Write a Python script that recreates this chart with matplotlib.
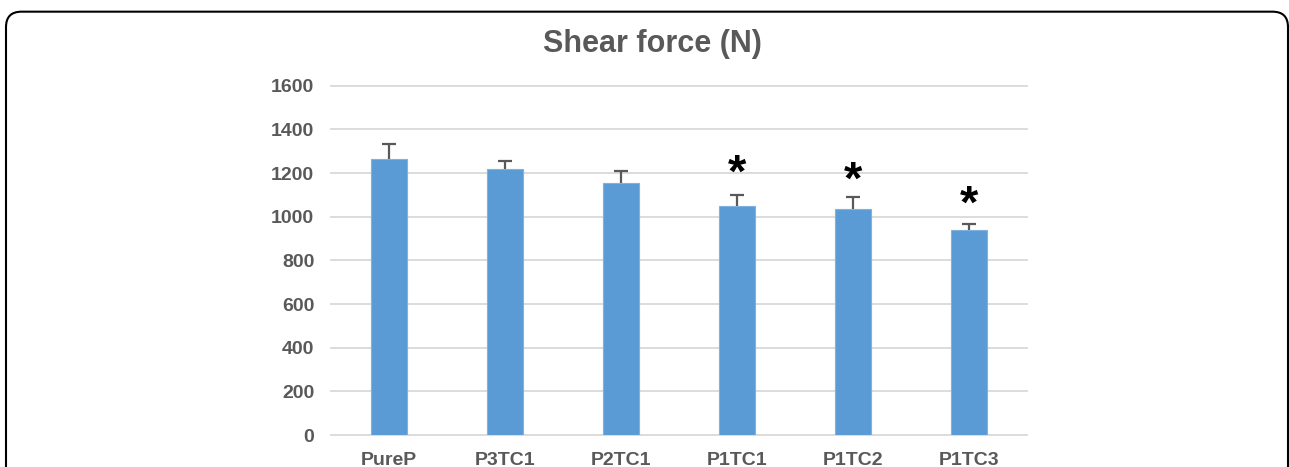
import matplotlib.pyplot as plt
from matplotlib.patches import FancyBboxPatch

categories = ["PureP", "P3TC1", "P2TC1", "P1TC1", "P1TC2", "P1TC3"]
shear_force = [1264, 1218, 1154, 1049, 1036, 938]
shear_err = [70, 37, 55, 49, 54, 29]
significant = [False, False, False, True, True, True]
star_y = [0, 0, 0, 1190, 1158, 1048]
yticks = [0, 200, 400, 600, 800, 1000, 1200, 1400, 1600]

plt.rcParams['font.family'] = ['Liberation Sans', 'DejaVu Sans']

fig = plt.figure(figsize=(12.89, 4.67), dpi=100)
ax = fig.add_axes([0.2568, 0.0685, 0.540, 0.748])

gray = "#595959"
x = range(len(categories))
ax.bar(x, shear_force, width=0.31, color="#5B9BD5", edgecolor="#7FB2E0",
       linewidth=0.8, zorder=2)
_, caps, _ = ax.errorbar(x, shear_force, yerr=[[0] * len(shear_err), shear_err],
                         fmt="none", ecolor=gray, elinewidth=1.6, capsize=5,
                         capthick=1.6, zorder=3)
caps[0].set_visible(False)

for i, (sig, sy) in enumerate(zip(significant, star_y)):
    if sig:
        ax.text(i, sy, "*", ha="center", va="center", fontsize=34,
                fontweight="bold", color="black")

ax.set_xlim(-0.5, len(categories) - 0.5)
ax.set_ylim(0, 1600)
ax.set_yticks(yticks)
ax.set_xticks(list(x))
ax.set_xticklabels(categories)
ax.yaxis.grid(True, color="#d9d9d9", linewidth=1.3, zorder=0)
for line in ax.get_ygridlines():
    line.set_clip_on(False)
ax.set_axisbelow(True)
for s in ax.spines.values():
    s.set_visible(False)
ax.tick_params(length=0, labelsize=14, labelcolor=gray, pad=12)
ax.tick_params(axis="x", pad=12)
for lab in ax.get_xticklabels() + ax.get_yticklabels():
    lab.set_fontweight("bold")

fig.text(0.506, 0.905, "Shear force (N)", ha="center", va="center",
         fontsize=22, fontweight="bold", color=gray)

border = FancyBboxPatch((6 / 1289, -0.2), (1288 - 6) / 1289, 1.175,
                        boxstyle="round,pad=0,rounding_size=0.012",
                        transform=fig.transFigure, fill=False,
                        edgecolor="black", linewidth=1.5, mutation_aspect=1289 / 467)
fig.patches.append(border)

fig.savefig("out.png", dpi=100)
